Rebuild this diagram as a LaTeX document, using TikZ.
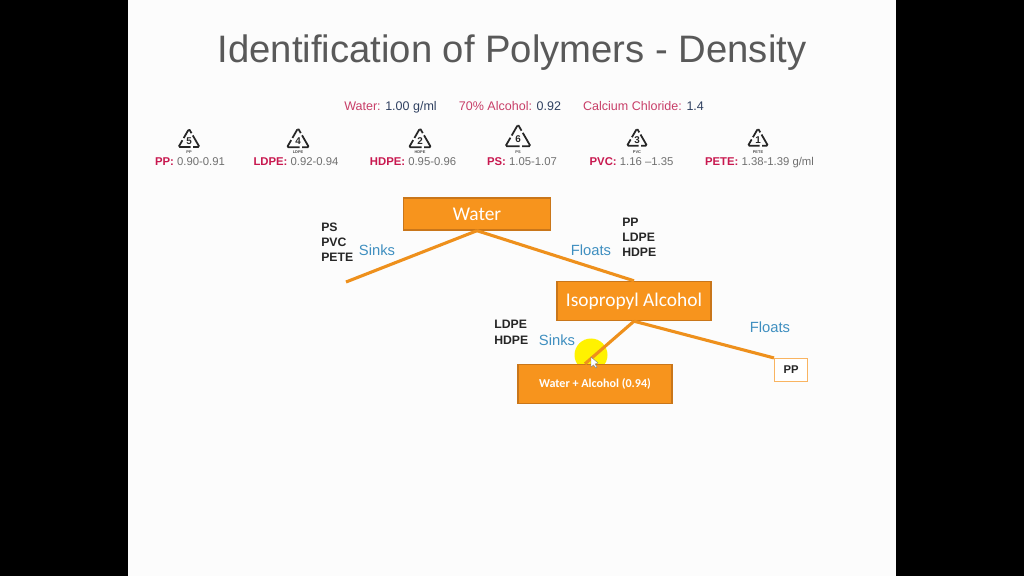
\documentclass[tikz,border=0pt]{standalone}
\usepackage{fontspec}
\setmainfont{Liberation Sans}
\newfontfamily\barfont{Carlito}
\usetikzlibrary{calc,shapes.geometric,positioning}
\definecolor{barfill}{HTML}{F7941D}
\definecolor{barline}{HTML}{C9761A}
\definecolor{linkcol}{HTML}{EE901C}
\definecolor{sinkcol}{HTML}{3F8FC0}
\definecolor{titlecol}{HTML}{595959}
\definecolor{plasticcol}{HTML}{C8184F}
\definecolor{rangecol}{HTML}{707070}
\definecolor{liquidcol}{HTML}{C83E68}
\definecolor{valuecol}{HTML}{2F4060}
\definecolor{markcol}{HTML}{FFF200}
\tikzset{%
    bar/.style={%
        rectangle, draw=barline, fill=barfill, line width=1pt, text=white, inner sep=0pt
    },
    link/.style={%
        draw=linkcol, line width=2.2pt
    },
    word/.style={%
        text=sinkcol, font=\fontsize{10.5}{12}\selectfont, inner sep=0pt
    },
    group/.style={%
        align=left, font=\bfseries\fontsize{8.7}{10.6}\selectfont, text=black!85, inner sep=0pt
    },
    density/.style={%
        font=\fontsize{8.05}{9}\selectfont, text=rangecol, inner sep=0pt, anchor=base
    },
    liquid/.style={%
        font=\fontsize{8.9}{10}\selectfont, text=valuecol, inner sep=0pt, anchor=base
    },
    recycle/.style={%
        regular polygon, regular polygon sides=3, draw=black!85, line width=1.25pt, rounded corners=1pt,
        inner sep=0pt
    },
    tiny/.style={%
        font=\bfseries\fontsize{2.8}{3}\selectfont, text=black!70, inner sep=0pt
    },
}
% name, x, y, width of symbol, number, plastic, x of text, range
\newcommand{\plastic}[8]{%
    \pgfmathsetmacro{\symside}{#4*0.711}
    \pgfmathsetmacro{\symsize}{\symside*1.1547}
    \pgfmathsetmacro{\symdash}{\symside-1.8}
    \pgfmathsetmacro{\symphase}{\symdash/2}
    \node[recycle, minimum size=\symsize pt, dash pattern=on \symdash pt off 1.8pt, dash phase=\symphase pt] (#1sym) at (#2,#3) {};
    \node[text=black!85, inner sep=0pt, font=\bfseries\fontsize{7}{8}\selectfont] (#1num) at (#2,#3) {#5};
    \node[tiny] (#1tag) at (#2,152) {#6};
    \node[density] (#1txt) at (#7,166) {\textcolor{plasticcol}{\textbf{#6:}} #8};
}
\begin{document}
\begin{tikzpicture}[x=0.025cm,y=-0.025cm]
      % page
      \useasboundingbox (0,0) rectangle (1024,576);
      \fill[black] (0,0) rectangle (1024,576);
      \fill[white!99!black] (128,0) rectangle (896,576);

      \node[text=titlecol, font=\fontsize{27.2}{30}\selectfont, inner sep=0pt] (title) at (512,53) {Identification of Polymers - Density};

      % liquids
      \node[liquid] (water) at (390.5,111) {\textcolor{liquidcol}{Water:} 1.00 g/ml};
      \node[liquid] (alcohol) at (510,111) {\textcolor{liquidcol}{70\% Alcohol:} 0.92};
      \node[liquid] (calcium) at (643.5,111) {\textcolor{liquidcol}{Calcium Chloride:} 1.4};

      % plastics
      \plastic{pp}{189}{141}{21}{5}{PP}{190}{0.90-0.91}
      \plastic{ldpe}{298}{141}{22}{4}{LDPE}{296}{0.92-0.94}
      \plastic{hdpe}{420}{141}{22}{2}{HDPE}{413}{0.95-0.96}
      \plastic{ps}{518}{139}{25}{6}{PS}{522}{1.05-1.07}
      \plastic{pvc}{637}{140}{20}{3}{PVC}{631.5}{1.16 --1.35}
      \plastic{pete}{758}{140}{20}{1}{PETE}{759.5}{1.38-1.39 g/ml}

      % tree
      \coordinate (sinkend) at (346,282);
      \fill[markcol] (591,355) circle (16.5);
      \node[bar, minimum width=147pt*0.711, minimum height=32pt*0.711, font=\barfont\fontsize{13.8}{15}\selectfont] (waterbar) at (477,214) {\raisebox{-0.7pt}{Water}};
      \node[bar, minimum width=154pt*0.711, minimum height=39pt*0.711, font=\barfont\fontsize{13.8}{15}\selectfont] (isobar) at (634,301) {\raisebox{-0.7pt}{Isopropyl Alcohol}};
      \node[bar, minimum width=154pt*0.711, minimum height=39pt*0.711, font=\barfont\bfseries\fontsize{8.6}{10}\selectfont] (mixbar) at (595,384) {\raisebox{-0.7pt}{Water + Alcohol (0.94)}};
      \node[rectangle, draw=barfill!70!white, fill=white, line width=0.8pt, minimum width=33pt*0.711, minimum height=23pt*0.711, inner sep=0pt, font=\bfseries\fontsize{8}{10}\selectfont, text=black!85] (ppbox) at (791,370) {PP};

      \draw[link] (waterbar.south) -- (sinkend);
      \draw[link] (waterbar.south) -- (isobar.north);
      \draw[link] (isobar.south) -- ($(mixbar.north)+(-10,0)$);
      \draw[link] (isobar.south) -- (ppbox.north west);
      \fill[white, draw=gray, line width=0.3pt] (591,357) -- (591,367) -- (593.5,365) -- (596,368) -- (597,367) -- (595,364) -- (598,363) -- cycle;

      % labels
      \node[group, anchor=north west] (sinkgroup) at (321,223) {PS\\PVC\\PETE};
      \node[group, anchor=north west] (floatgroup) at (622,218) {PP\\LDPE\\HDPE};
      \node[group, anchor=north west, font=\bfseries\fontsize{8.7}{11.3}\selectfont] (lowgroup) at (494,320) {LDPE\\HDPE};
      \node[word] (sinksa) at (377,250) {Sinks};
      \node[word] (floatsa) at (591,250) {Floats};
      \node[word] (sinksb) at (557,340) {Sinks};
      \node[word] (floatsb) at (770,327) {Floats};
    \end{tikzpicture}
\end{document}
